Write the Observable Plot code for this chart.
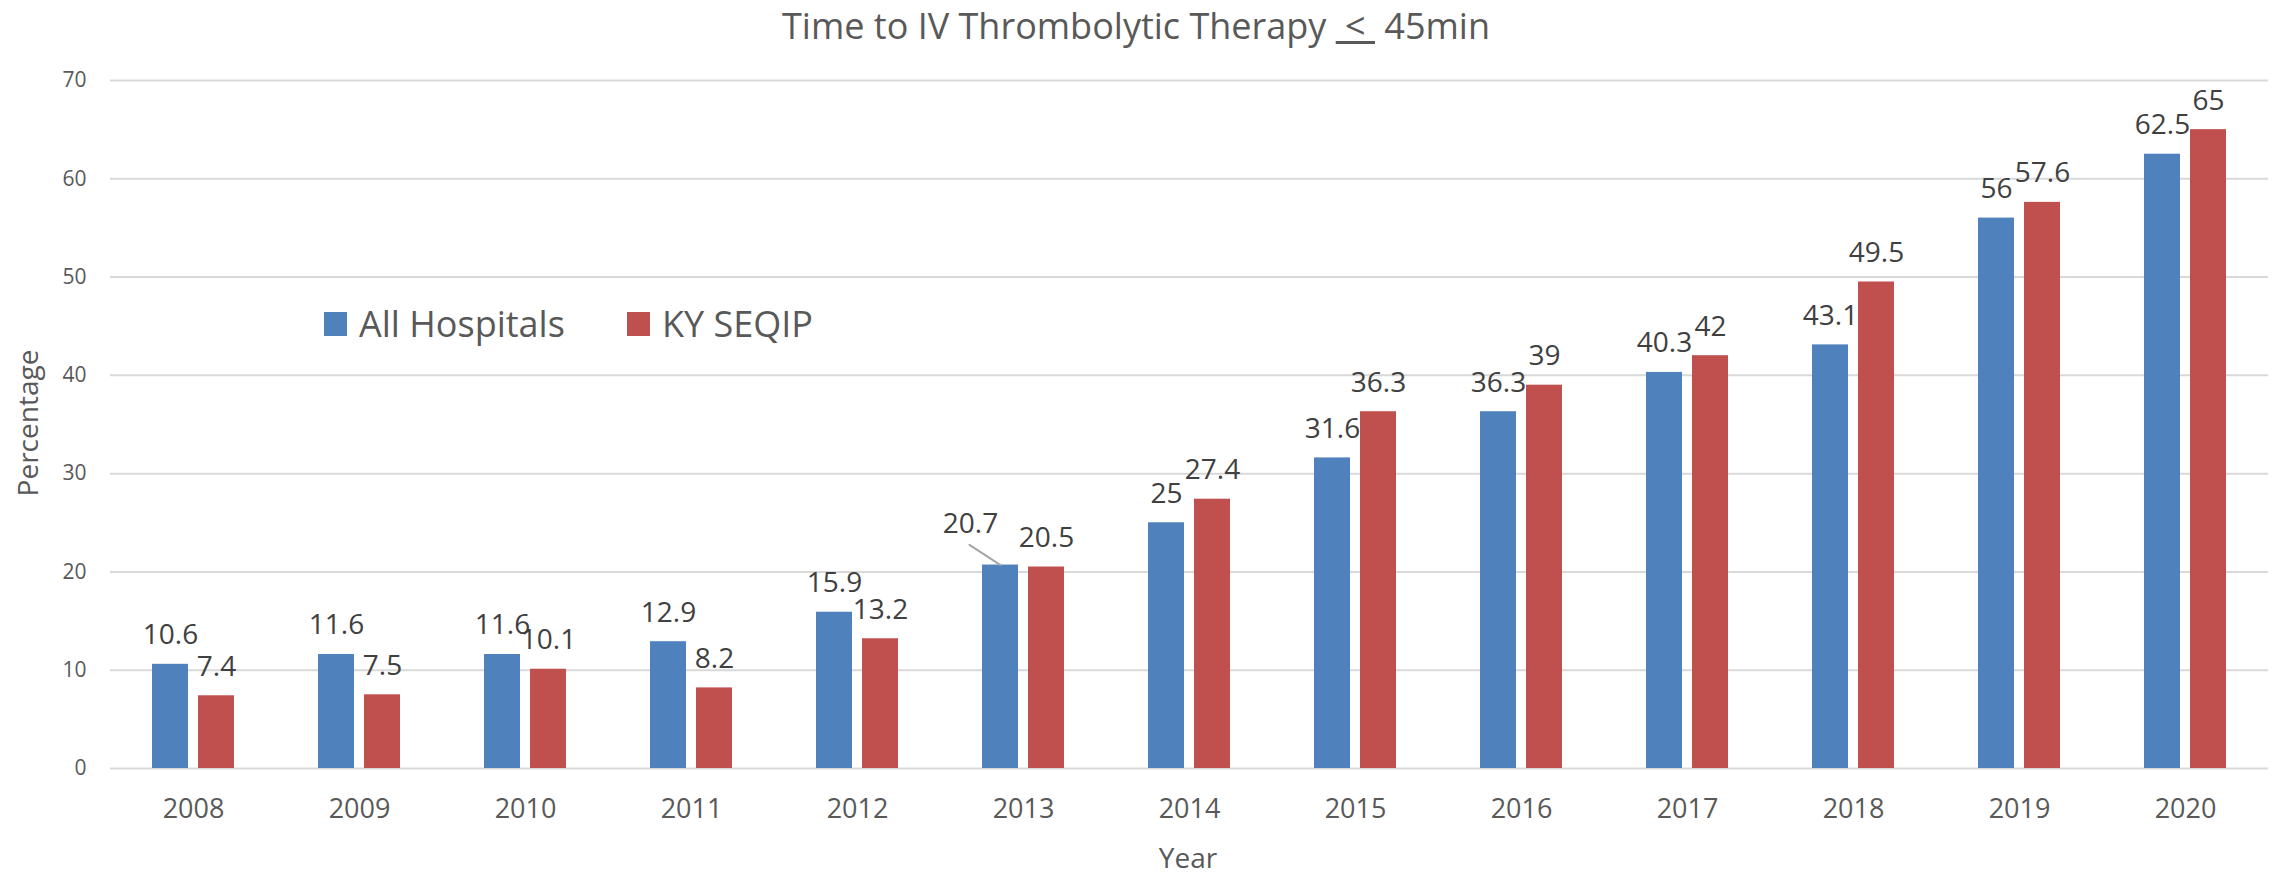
<!DOCTYPE html>
<html>
<head>
<meta charset="utf-8">
<script src="https://cdn.jsdelivr.net/npm/d3@7"></script>
<script src="https://cdn.jsdelivr.net/npm/@observablehq/plot@0.6"></script>
<style>
  body { margin: 0; background: #fff; }
  #wrap { position: relative; width: 2283px; height: 876px; overflow: hidden;
          font-family: "Open Sans", sans-serif; color: #595959; }
  #wrap svg { position: absolute; left: 0; top: 0; }
  #title { position: absolute; top: 4px; left: 1136px; transform: translateX(-50%);
           font-size: 36px; line-height: 44px; white-space: nowrap; color: #595959; }
  .axis-title { position: absolute; font-size: 28px; line-height: 30px; white-space: nowrap; color: #595959; }
  #ytitle { left: 27px; top: 423px; transform: translate(-50%, -50%) rotate(-90deg); }
  #xtitle { left: 1188px; top: 857px; transform: translate(-50%, -50%); }
  .leg-item { position: absolute; top: 324px; transform: translateY(-50%); display: flex; align-items: center;
              font-size: 36px; line-height: 44px; color: #595959; white-space: nowrap; }
  .leg-swatch { width: 23px; height: 24px; margin-right: 12px; }
</style>
</head>
<body>
<div id="wrap">
  <div id="title">Time to IV Thrombolytic Therapy <u>&nbsp;&lt;&nbsp;</u> 45min</div>
  <div id="ytitle" class="axis-title">Percentage</div>
  <div id="xtitle" class="axis-title">Year</div>
</div>
<script>
// ---- data ----
const years = ["2008", "2009", "2010", "2011", "2012", "2013", "2014", "2015", "2016", "2017", "2018", "2019", "2020"];
const seriesNames = ["All Hospitals", "KY SEQIP"];
const allHospitals = [10.6, 11.6, 11.6, 12.9, 15.9, 20.7, 25, 31.6, 36.3, 40.3, 43.1, 56, 62.5];
const kySeqip = [7.4, 7.5, 10.1, 8.2, 13.2, 20.5, 27.4, 36.3, 39, 42, 49.5, 57.6, 65];
const yTicks = [0, 10, 20, 30, 40, 50, 60, 70];
const seriesColors = ["#4F81BD", "#C0504D"];
// label that is pulled aside with a leader line
const leaderYear = "2013";
const leaderSeries = "All Hospitals";

const rows = years.flatMap((year, i) => [
  {year, series: seriesNames[0], value: allHospitals[i]},
  {year, series: seriesNames[1], value: kySeqip[i]}
]);
const isLeader = d => d.year === leaderYear && d.series === leaderSeries;
const leaderShape = {
  draw(context, l) { context.moveTo(0, 0); context.lineTo(0, -l); }
};

const chart = Plot.plot({
  width: 2283,
  height: 876,
  marginTop: 80,
  marginBottom: 108,
  marginLeft: 104,
  marginRight: 10,
  style: {fontFamily: "'Open Sans', sans-serif", background: "transparent", color: "#595959"},
  fx: {domain: years, padding: 0, label: null},
  x: {domain: seriesNames, paddingInner: 0.213, paddingOuter: 0.88, axis: null},
  y: {domain: [0, 70], label: null},
  color: {domain: seriesNames, range: seriesColors},
  marks: [
    Plot.gridY(yTicks, {stroke: "#d9d9d9", strokeWidth: 2, strokeOpacity: 1}),
    Plot.axisY(yTicks, {anchor: "left", tickSize: 0, tickPadding: 24, fontSize: 21, fill: "#595959", label: null}),
    Plot.axisFx({anchor: "bottom", tickSize: 0, tickPadding: 30, fontSize: 27, fill: "#595959", label: null}),
    Plot.barY(rows, {fx: "year", x: "series", y: "value", fill: "series"}),
    Plot.text(rows.filter(d => !isLeader(d)), {
      fx: "year", x: "series", y: "value", text: d => String(d.value),
      lineAnchor: "bottom", dy: -20, fontSize: 28, fill: "#404040"
    }),
    Plot.text(rows.filter(isLeader), {
      fx: "year", x: "series", y: "value", text: d => String(d.value),
      lineAnchor: "bottom", dx: -30, dy: -32, fontSize: 28, fill: "#404040"
    }),
    Plot.vector(rows.filter(isLeader), {
      fx: "year", x: "series", y: "value", length: 37, rotate: -57, anchor: "start",
      shape: leaderShape, stroke: "#a6a6a6", strokeWidth: 2
    })
  ]
});

const wrap = document.getElementById("wrap");
wrap.prepend(chart);

// legend built from the series names / colours
const legendLefts = [324, 627];
seriesNames.forEach((name, i) => {
  const item = document.createElement("div");
  item.className = "leg-item";
  item.style.left = legendLefts[i] + "px";
  const sw = document.createElement("span");
  sw.className = "leg-swatch";
  sw.style.background = seriesColors[i];
  const tx = document.createElement("span");
  tx.textContent = name;
  item.append(sw, tx);
  wrap.append(item);
});
</script>
</body>
</html>
